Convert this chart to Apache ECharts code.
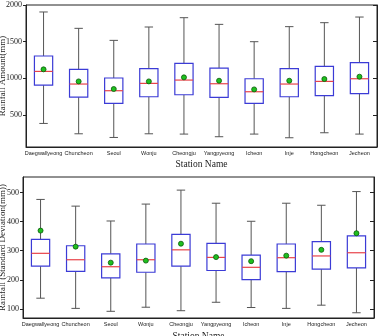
<!DOCTYPE html>
<html>
<head>
<meta charset="utf-8">
<script src="https://cdn.jsdelivr.net/npm/echarts@6/dist/echarts.min.js"></script>
<style>
  html, body { margin: 0; padding: 0; background: #fff; }
  #chart { width: 380px; height: 336px; }
</style>
</head>
<body>
<div id="chart"></div>
<script>
// station names on the x axis
var stations = ['Daegwallyeong', 'Chuncheon', 'Seoul', 'Wonju', 'Cheongju',
  'Yangpyeong', 'Icheon', 'Inje', 'Hongcheon', 'Jecheon']

// top panel: rainfall amount (mm)
var amountMin    = [386, 245, 195, 245, 241, 205, 241, 191, 259, 241]
var amountQ1     = [909, 745, 659, 750, 777, 741, 659, 750, 764, 791]
var amountMedian = [1095, 923, 832, 932, 977, 927, 818, 923, 959, 995]
var amountQ3     = [1305, 1123, 1005, 1132, 1205, 1141, 995, 1132, 1164, 1214]
var amountMax    = [1905, 1682, 1518, 1700, 1827, 1736, 1500, 1705, 1759, 1836]
var amountMean   = [1123, 959, 855, 959, 1014, 968, 850, 968, 991, 1023]
var amountTicks  = [500, 1000, 1500, 2000]

// bottom panel: rainfall standard deviation (mm)
var sdMin    = [137, 102, 92, 106, 94, 123, 105, 102, 113, 87]
var sdQ1     = [247, 229, 207, 226, 247, 232, 201, 228, 237, 241]
var sdMedian = [291, 269, 245, 269, 303, 277, 243, 276, 282, 293]
var sdQ3     = [339, 317, 289, 323, 356, 325, 285, 323, 331, 351]
var sdMax    = [476, 453, 402, 460, 508, 463, 401, 463, 456, 503]
var sdMean   = [369, 314, 259, 266, 324, 278, 264, 283, 303, 360]
var sdTicks  = [100, 200, 300, 400, 500]

var BOX_COLOR = '#3b3bd6'
var MEDIAN_COLOR = '#e8434a'
var WHISKER_COLOR = '#555'

function buildBoxData(mins, q1s, meds, q3s, maxs) {
  return stations.map(function(name, i) {
    return [i, mins[i], q1s[i], meds[i], q3s[i], maxs[i]]
  })
}

// draw one box: whiskers, caps, box, median
function renderBox(params, api) {
  var idx = api.value(0)
  var pMin = api.coord([idx, api.value(1)])
  var pQ1 = api.coord([idx, api.value(2)])
  var pMed = api.coord([idx, api.value(3)])
  var pQ3 = api.coord([idx, api.value(4)])
  var pMax = api.coord([idx, api.value(5)])
  var band = api.size([1, 0])[0]
  var halfBox = band * 0.26
  var halfCap = band * 0.12
  var x = pMed[0]
  var lineStyle = { stroke: WHISKER_COLOR, lineWidth: 1 }
  return {
    type: 'group',
    children: [
      { type: 'line', shape: { x1: x, y1: pQ3[1], x2: x, y2: pMax[1] }, style: lineStyle },
      { type: 'line', shape: { x1: x, y1: pQ1[1], x2: x, y2: pMin[1] }, style: lineStyle },
      { type: 'line', shape: { x1: x - halfCap, y1: pMax[1], x2: x + halfCap, y2: pMax[1] }, style: lineStyle },
      { type: 'line', shape: { x1: x - halfCap, y1: pMin[1], x2: x + halfCap, y2: pMin[1] }, style: lineStyle },
      {
        type: 'rect',
        shape: { x: x - halfBox, y: pQ3[1], width: halfBox * 2, height: pQ1[1] - pQ3[1] },
        style: { fill: '#fff', stroke: BOX_COLOR, lineWidth: 1.2 }
      },
      {
        type: 'line',
        shape: { x1: x - halfBox, y1: pMed[1], x2: x + halfBox, y2: pMed[1] },
        style: { stroke: MEDIAN_COLOR, lineWidth: 1.2 }
      }
    ]
  }
}

var serif = 'Liberation Serif'
var sans = 'Liberation Sans'

function makeXAxis(gridIndex, nameGap) {
  return {
    type: 'category',
    gridIndex: gridIndex,
    data: stations,
    name: 'Station Name',
    nameLocation: 'middle',
    nameGap: nameGap,
    nameMoveOverlap: false,
    nameTextStyle: { fontFamily: serif, fontSize: 9.5, color: '#222' },
    axisLine: { show: true, lineStyle: { color: '#222', width: 1 } },
    axisTick: { show: false },
    axisLabel: { interval: 0, margin: 3, fontFamily: sans, fontSize: 5.5, color: '#222' },
    splitLine: { show: false }
  }
}

function makeLeftAxis(gridIndex, min, max, ticks, title, gap) {
  return {
    type: 'value',
    gridIndex: gridIndex,
    min: min,
    max: max,
    name: title,
    nameLocation: 'middle',
    nameGap: gap,
    nameMoveOverlap: false,
    nameTextStyle: { fontFamily: serif, fontSize: 9, color: '#222' },
    axisLine: { show: true, lineStyle: { color: '#222', width: 1 } },
    axisTick: { show: true, length: 3, customValues: ticks, lineStyle: { color: '#222' } },
    axisLabel: {
      customValues: ticks,
      margin: 4,
      fontFamily: serif,
      fontSize: 8,
      color: '#222',
      formatter: function(v) { return String(v) }
    },
    splitLine: { show: false }
  }
}

function makeRightAxis(gridIndex, min, max, ticks) {
  return {
    type: 'value',
    gridIndex: gridIndex,
    position: 'right',
    min: min,
    max: max,
    axisLine: { show: true, lineStyle: { color: '#222', width: 1 } },
    axisTick: { show: true, inside: true, length: 4, customValues: ticks, lineStyle: { color: '#222' } },
    axisLabel: { show: false },
    splitLine: { show: false }
  }
}

var chart = echarts.init(document.getElementById('chart'), null, { renderer: 'canvas' })

chart.setOption({
  animation: false,
  backgroundColor: '#fff',
  grid: [
    {
      left: 26, right: 3, top: 5, height: 142, outerBoundsMode: 'none',
      show: true, borderColor: '#222', borderWidth: 1
    },
    {
      left: 23, right: 6, top: 177, height: 141, outerBoundsMode: 'none',
      show: true, borderColor: '#222', borderWidth: 1
    }
  ],
  xAxis: [makeXAxis(0, 12), makeXAxis(1, 13)],
  yAxis: [
    makeLeftAxis(0, 65, 2000, amountTicks, 'Rainfall Amount(mm)', 18.5),
    makeRightAxis(0, 65, 2000, amountTicks),
    makeLeftAxis(1, 69, 553, sdTicks, 'Rainfall (Standard Deviation(mm))', 16),
    makeRightAxis(1, 69, 553, sdTicks)
  ],
  series: [
    {
      type: 'custom',
      xAxisIndex: 0,
      yAxisIndex: 0,
      renderItem: renderBox,
      encode: { x: 0, y: [1, 2, 3, 4, 5] },
      data: buildBoxData(amountMin, amountQ1, amountMedian, amountQ3, amountMax)
    },
    {
      type: 'scatter',
      xAxisIndex: 0,
      yAxisIndex: 0,
      symbolSize: 5,
      itemStyle: { color: '#1fc01f', borderColor: '#0a5a0a', borderWidth: 0.8, opacity: 1 },
      data: amountMean
    },
    {
      type: 'custom',
      xAxisIndex: 1,
      yAxisIndex: 2,
      renderItem: renderBox,
      encode: { x: 0, y: [1, 2, 3, 4, 5] },
      data: buildBoxData(sdMin, sdQ1, sdMedian, sdQ3, sdMax)
    },
    {
      type: 'scatter',
      xAxisIndex: 1,
      yAxisIndex: 2,
      symbolSize: 5,
      itemStyle: { color: '#1fc01f', borderColor: '#0a5a0a', borderWidth: 0.8, opacity: 1 },
      data: sdMean
    }
  ]
})
</script>
</body>
</html>
